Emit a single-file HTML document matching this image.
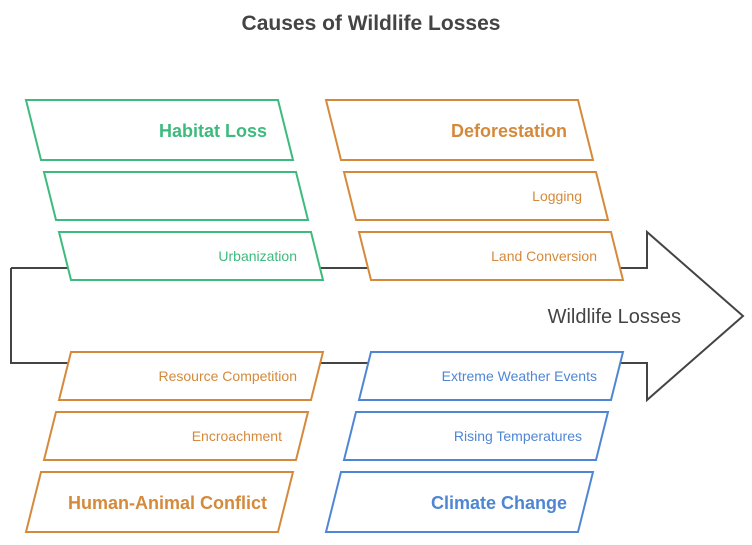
<!DOCTYPE html>
<html><head><style>body{margin:0;background:#fff}svg{display:block}text{font-family:"Liberation Sans",Arial,sans-serif}</style></head><body>
<svg width="752" height="545" viewBox="0 0 752 545" xmlns="http://www.w3.org/2000/svg">
<rect width="752" height="545" fill="#fff"/>
<text x="371" y="30" text-anchor="middle" font-size="21" font-weight="bold" fill="#444">Causes of Wildlife Losses</text>
<polyline points="11,268 11,363 647,363 647,400 743,316 647,232 647,268 11,268" fill="none" stroke="#444" stroke-width="2"/>
<g stroke-width="2" fill="#fff">
<g stroke="#3dba7d">
<polygon points="26,100 278,100 293,160 41,160"/>
<polygon points="44,172 296,172 308,220 56,220"/>
<polygon points="59,232 311,232 323,280 71,280"/>
</g>
<g stroke="#d58a3b">
<polygon points="326,100 578,100 593,160 341,160"/>
<polygon points="344,172 596,172 608,220 356,220"/>
<polygon points="359,232 611,232 623,280 371,280"/>
<polygon points="71,352 323,352 311,400 59,400"/>
<polygon points="56,412 308,412 296,460 44,460"/>
<polygon points="41,472 293,472 278,532 26,532"/>
</g>
<g stroke="#4f86d4">
<polygon points="371,352 623,352 611,400 359,400"/>
<polygon points="356,412 608,412 596,460 344,460"/>
<polygon points="341,472 593,472 578,532 326,532"/>
</g>
</g>
<g text-anchor="end">
<text x="267" y="137" font-size="18" font-weight="bold" fill="#3dba7d">Habitat Loss</text>
<text x="297" y="261" font-size="14" fill="#3dba7d">Urbanization</text>
<text x="567" y="137" font-size="18" font-weight="bold" fill="#d58a3b">Deforestation</text>
<text x="582" y="201" font-size="14" fill="#d58a3b">Logging</text>
<text x="597" y="261" font-size="14" fill="#d58a3b">Land Conversion</text>
<text x="297" y="381" font-size="14" fill="#d58a3b">Resource Competition</text>
<text x="282" y="441" font-size="14" fill="#d58a3b">Encroachment</text>
<text x="267" y="509" font-size="18" font-weight="bold" fill="#d58a3b">Human-Animal Conflict</text>
<text x="597" y="381" font-size="14" fill="#4f86d4">Extreme Weather Events</text>
<text x="582" y="441" font-size="14" fill="#4f86d4">Rising Temperatures</text>
<text x="567" y="509" font-size="18" font-weight="bold" fill="#4f86d4">Climate Change</text>
<text x="681" y="323" font-size="20" fill="#444">Wildlife Losses</text>
</g>
</svg>
</body></html>
